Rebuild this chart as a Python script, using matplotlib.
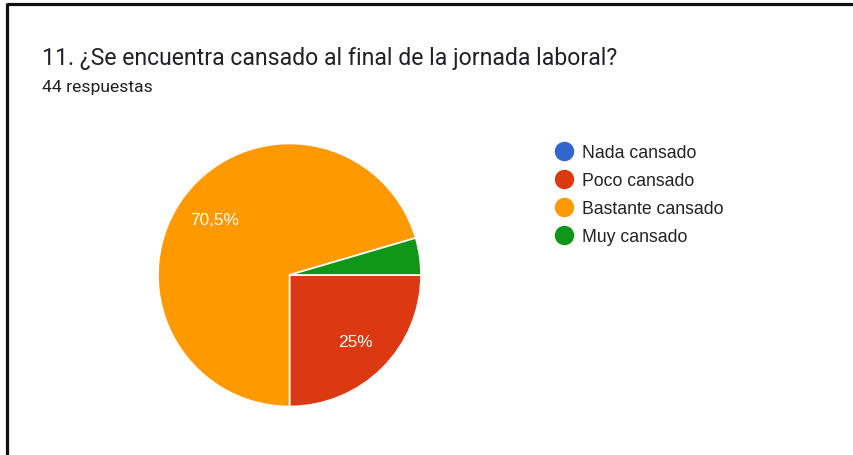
import matplotlib.pyplot as plt
from matplotlib.lines import Line2D

plt.rcParams['font.family'] = ['Roboto', 'DejaVu Sans']

## survey answers (44 responses)
categories = ['Nada cansado', 'Poco cansado', 'Bastante cansado', 'Muy cansado']
counts = [0, 11, 31, 2]
colors = ['#3366cc', '#dc3912', '#ff9900', '#109618']

title = '11. ¿Se encuentra cansado al final de la jornada laboral?'
subtitle = '44 respuestas'

W, H = 854, 456
fig = plt.figure(figsize=(W / 100, H / 100), dpi=100)
fig.patch.set_facecolor('white')

## frame lines on top and left
fig.add_artist(Line2D([7.5 / W, 1], [1 - 4.5 / H, 1 - 4.5 / H], color='#111111', lw=2.3,
                      solid_capstyle='butt'))
fig.add_artist(Line2D([7.5 / W, 7.5 / W], [0, 1 - 3.5 / H], color='#111111', lw=2.3,
                      solid_capstyle='butt'))

fig.text(42 / W, 1 - 58 / H, title, fontsize=16.6, color='#202124', va='center')
fig.text(42 / W, 1 - 88 / H, subtitle, fontsize=12.6, color='#202124', va='center')

def fmt(p):
  if p < 5:
    return ''
  return ('%.1f%%' % p).replace('.0%', '%').replace('.', ',')

cx, cy, r = 289.5, 276, 131.5
ax = fig.add_axes([(cx - r) / W, (H - cy - r) / H, 2 * r / W, 2 * r / H])
wedges, texts, autotexts = ax.pie(counts, colors=colors, startangle=0, counterclock=False,
                                  autopct=fmt, pctdistance=0.71,
                                  wedgeprops=dict(edgecolor='white', linewidth=1.2),
                                  textprops=dict(color='white', fontsize=12.4,
                                                 family='Liberation Sans'))
ax.set_xlim(-1, 1)
ax.set_ylim(-1, 1)
ax.set_aspect('equal')

handles = [Line2D([], [], marker='o', linestyle='', markersize=13,
                  markerfacecolor=c, markeredgecolor=c) for c in colors]
fig.legend(handles, categories, loc='upper left', bbox_to_anchor=(553.5 / W, 1 - 145.5 / H),
           frameon=False, labelspacing=0.61, handletextpad=0.43,
           handlelength=1.2, borderaxespad=0, borderpad=0, labelcolor='#222222',
           prop=dict(family='Liberation Sans', size=12.7))

plt.savefig('out.png', dpi=100)
